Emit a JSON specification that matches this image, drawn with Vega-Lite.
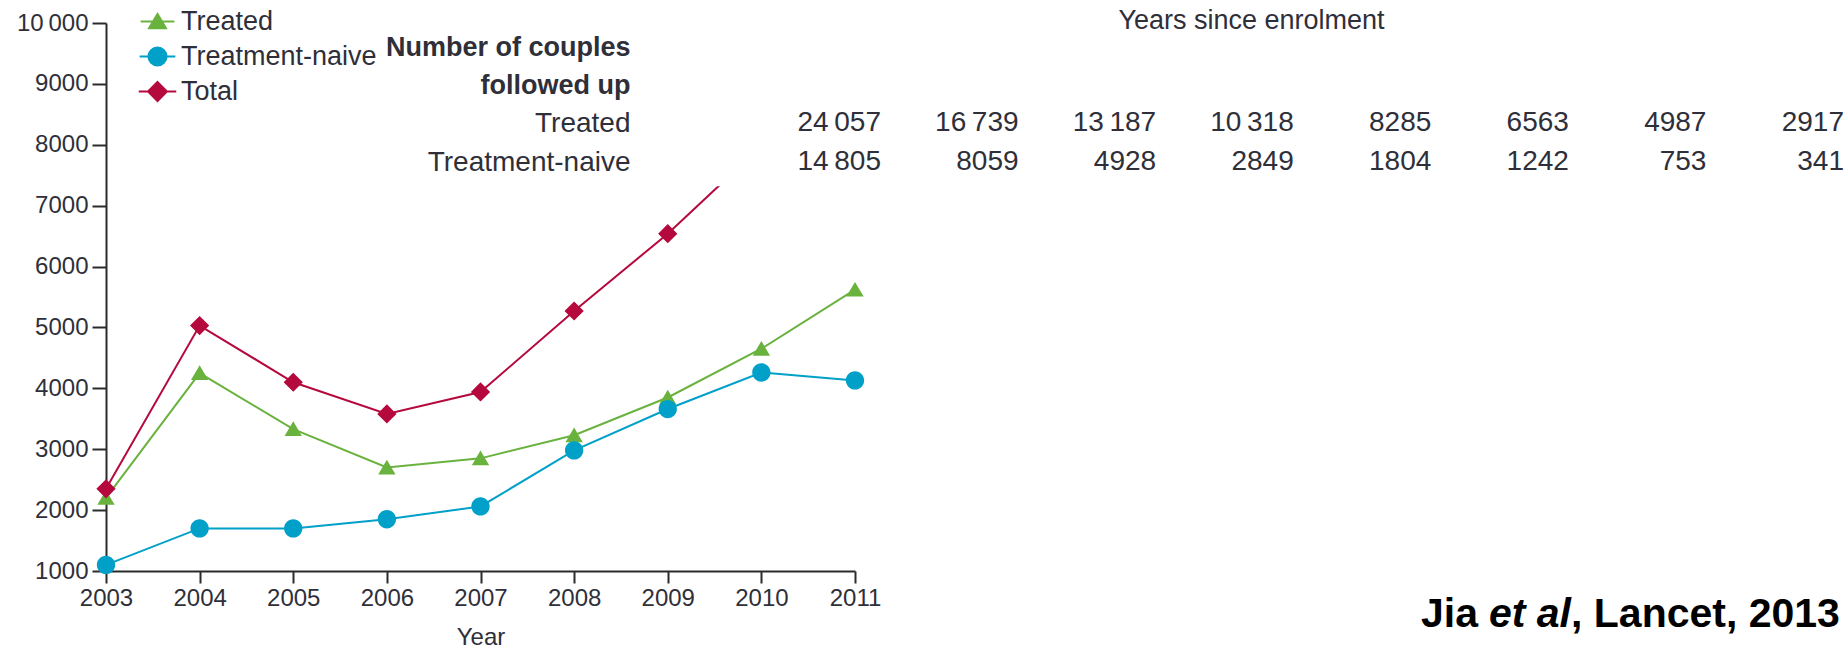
{
  "$schema": "https://vega.github.io/schema/vega-lite/v6.json",
  "width": 1741,
  "height": 548,
  "autosize": {"type": "none"},
  "padding": {"left": 106, "top": 23, "right": 0, "bottom": 77},
  "background": "white",
  "config": {
    "view": {"stroke": null},
    "font": "Liberation Sans",
    "locale": {"number": {"decimal": ".", "thousands": "\u2009", "grouping": [3], "currency": ["", ""]}},
    "axis": {
      "grid": false,
      "domainColor": "#2b2b2b",
      "domainWidth": 2,
      "tickColor": "#2b2b2b",
      "tickWidth": 2,
      "labelColor": "#2f2f3a",
      "titleColor": "#2f2f3a",
      "labelFont": "Liberation Sans",
      "titleFont": "Liberation Sans",
      "titleFontWeight": "normal"
    },
    "legend": {"labelFont": "Liberation Sans", "labelColor": "#2f2f3a"}
  },
  "datasets": {
    "trend": [
      {"year": 2003, "series": "Treated", "couples": 2200},
      {"year": 2004, "series": "Treated", "couples": 4250},
      {"year": 2005, "series": "Treated", "couples": 3330},
      {"year": 2006, "series": "Treated", "couples": 2700},
      {"year": 2007, "series": "Treated", "couples": 2850},
      {"year": 2008, "series": "Treated", "couples": 3230},
      {"year": 2009, "series": "Treated", "couples": 3850},
      {"year": 2010, "series": "Treated", "couples": 4650},
      {"year": 2011, "series": "Treated", "couples": 5620},
      {"year": 2003, "series": "Treatment-naive", "couples": 1100},
      {"year": 2004, "series": "Treatment-naive", "couples": 1700},
      {"year": 2005, "series": "Treatment-naive", "couples": 1700},
      {"year": 2006, "series": "Treatment-naive", "couples": 1850},
      {"year": 2007, "series": "Treatment-naive", "couples": 2060},
      {"year": 2008, "series": "Treatment-naive", "couples": 2980},
      {"year": 2009, "series": "Treatment-naive", "couples": 3660},
      {"year": 2010, "series": "Treatment-naive", "couples": 4260},
      {"year": 2011, "series": "Treatment-naive", "couples": 4130},
      {"year": 2003, "series": "Total", "couples": 2350},
      {"year": 2004, "series": "Total", "couples": 5030},
      {"year": 2005, "series": "Total", "couples": 4100},
      {"year": 2006, "series": "Total", "couples": 3580},
      {"year": 2007, "series": "Total", "couples": 3940},
      {"year": 2008, "series": "Total", "couples": 5270},
      {"year": 2009, "series": "Total", "couples": 6540},
      {"year": 2010, "series": "Total", "couples": 7980},
      {"year": 2011, "series": "Total", "couples": 9700}
    ],
    "followup": [
      {"group": "Treated", "years_since_enrolment": 0, "n_couples": 24057},
      {"group": "Treated", "years_since_enrolment": 1, "n_couples": 16739},
      {"group": "Treated", "years_since_enrolment": 2, "n_couples": 13187},
      {"group": "Treated", "years_since_enrolment": 3, "n_couples": 10318},
      {"group": "Treated", "years_since_enrolment": 4, "n_couples": 8285},
      {"group": "Treated", "years_since_enrolment": 5, "n_couples": 6563},
      {"group": "Treated", "years_since_enrolment": 6, "n_couples": 4987},
      {"group": "Treated", "years_since_enrolment": 7, "n_couples": 2917},
      {"group": "Treatment-naive", "years_since_enrolment": 0, "n_couples": 14805},
      {"group": "Treatment-naive", "years_since_enrolment": 1, "n_couples": 8059},
      {"group": "Treatment-naive", "years_since_enrolment": 2, "n_couples": 4928},
      {"group": "Treatment-naive", "years_since_enrolment": 3, "n_couples": 2849},
      {"group": "Treatment-naive", "years_since_enrolment": 4, "n_couples": 1804},
      {"group": "Treatment-naive", "years_since_enrolment": 5, "n_couples": 1242},
      {"group": "Treatment-naive", "years_since_enrolment": 6, "n_couples": 753},
      {"group": "Treatment-naive", "years_since_enrolment": 7, "n_couples": 341}
    ],
    "citation": [
      {"author": "Jia", "etal": "et al", "source": ", Lancet, 2013"}
    ]
  },
  "layer": [
    {
      "layer": [
        {
          "data": {"name": "trend"},
          "mark": {"type": "line", "strokeWidth": 2},
          "encoding": {
            "x": {
              "field": "year",
              "type": "quantitative",
              "scale": {"domain": [2003, 2011], "range": [0, 749], "nice": false, "zero": false},
              "axis": {
                "values": [2003, 2004, 2005, 2006, 2007, 2008, 2009, 2010, 2011],
                "format": "d",
                "title": "Year",
                "tickSize": 12,
                "labelPadding": 3,
                "labelFontSize": 24,
                "labelFlush": false,
                "titleFontSize": 24,
                "titlePadding": 15
              }
            },
            "y": {
              "field": "couples",
              "type": "quantitative",
              "scale": {"domain": [1000, 10000], "nice": false, "zero": false},
              "axis": {
                "values": [1000, 2000, 3000, 4000, 5000, 6000, 7000, 8000, 9000, 10000],
                "labelExpr": "datum.value >= 10000 ? replace(format(datum.value, ','), ',', '\u2009') : format(datum.value, 'd')",
                "tickSize": 14,
                "labelPadding": 4,
                "labelFontSize": 24,
                "title": null
              }
            },
            "color": {
              "field": "series",
              "type": "nominal",
              "scale": {"domain": ["Treated", "Treatment-naive", "Total"], "range": ["#6ab23e", "#00a0c8", "#b5093d"]},
              "legend": {
                "title": null,
                "orient": "none",
                "legendX": 38,
                "legendY": -15,
                "padding": 0,
                "rowPadding": 7,
                "labelOffset": 10,
                "labelFontSize": 27,
                "labelLimit": 0,
                "symbolSize": 225,
                "symbolStrokeWidth": 1.8,
                "symbolOpacity": 1
              }
            }
          }
        },
        {
          "data": {"name": "trend"},
          "mark": {"type": "point", "filled": true, "opacity": 1},
          "encoding": {
            "x": {"field": "year", "type": "quantitative"},
            "y": {"field": "couples", "type": "quantitative"},
            "color": {
              "field": "series",
              "type": "nominal",
              "legend": {
                "title": null,
                "orient": "none",
                "legendX": 38,
                "legendY": -15,
                "padding": 0,
                "rowPadding": 7,
                "labelOffset": 10,
                "labelFontSize": 27,
                "labelLimit": 0,
                "symbolSize": 225,
                "symbolStrokeWidth": 1.8,
                "symbolOpacity": 1
              }
            },
            "shape": {
              "field": "series",
              "type": "nominal",
              "scale": {
                "domain": ["Treated", "Treatment-naive", "Total"],
                "range": [
                  "M-1.95,0H1.95M0,-0.9L1,0.8H-1Z",
                  "M-1.95,0H1.95M1,0A1,1,0,1,1,-1,0A1,1,0,1,1,1,0Z",
                  "M-1.95,0H1.95M0,-1L1,0L0,1L-1,0Z"
                ]
              },
              "legend": null
            },
            "size": {
              "field": "series",
              "type": "nominal",
              "scale": {"domain": ["Treated", "Treatment-naive", "Total"], "range": [300, 370, 300]},
              "legend": null
            }
          }
        },
        {
          "data": {"values": [{"panel": "follow-up table backdrop"}]},
          "mark": {"type": "rect", "color": "white", "opacity": 1},
          "encoding": {
            "x": {"datum": 2005.81, "type": "quantitative"},
            "x2": {"datum": 2023},
            "y": {"datum": 7320, "type": "quantitative"},
            "y2": {"datum": 10500}
          }
        },
        {
          "data": {"name": "citation"},
          "mark": {"type": "text", "align": "right", "baseline": "alphabetic", "font": "Liberation Sans", "fontWeight": "bold", "fontSize": 41, "color": "black"},
          "encoding": {
            "x": {"datum": 2021.52, "type": "quantitative"},
            "y": {"datum": 80, "type": "quantitative"},
            "text": {"field": "source", "type": "nominal"}
          }
        },
        {
          "data": {"name": "citation"},
          "mark": {"type": "text", "align": "right", "baseline": "alphabetic", "font": "Liberation Sans", "fontWeight": "bold", "fontStyle": "italic", "fontSize": 41, "dx": -269, "color": "black"},
          "encoding": {
            "x": {"datum": 2021.52, "type": "quantitative"},
            "y": {"datum": 80, "type": "quantitative"},
            "text": {"field": "etal", "type": "nominal"}
          }
        },
        {
          "data": {"name": "citation"},
          "mark": {"type": "text", "align": "right", "baseline": "alphabetic", "font": "Liberation Sans", "fontWeight": "bold", "fontSize": 41, "dx": -362, "color": "black"},
          "encoding": {
            "x": {"datum": 2021.52, "type": "quantitative"},
            "y": {"datum": 80, "type": "quantitative"},
            "text": {"field": "author", "type": "nominal"}
          }
        }
      ]
    },
    {
      "data": {"name": "followup"},
      "mark": {"type": "text", "align": "right", "baseline": "middle", "fontSize": 28, "color": "#2f2f3a"},
      "encoding": {
        "x": {
          "field": "years_since_enrolment",
          "type": "quantitative",
          "scale": {"domain": [0, 7], "range": [775, 1738], "nice": false, "zero": false},
          "axis": {
            "orient": "top",
            "labels": false,
            "ticks": false,
            "domain": false,
            "title": "Years since enrolment",
            "titleX": 1145,
            "titleY": -3,
            "titleAlign": "center",
            "titleBaseline": "middle",
            "titleFontSize": 27,
            "titleFontWeight": "normal",
            "zindex": 1
          }
        },
        "y": {
          "field": "group",
          "type": "nominal",
          "scale": {"type": "point", "domain": ["Treated", "Treatment-naive"], "range": [100, 139], "padding": 0},
          "axis": {
            "orient": "left",
            "offset": -524,
            "domain": false,
            "ticks": false,
            "tickSize": 0,
            "labelPadding": 0,
            "labelAlign": "right",
            "labelBaseline": "middle",
            "labelFontSize": 28,
            "labelLimit": 0,
            "title": ["Number of couples", "followed up"],
            "titleAngle": 0,
            "titleAlign": "right",
            "titleBaseline": "middle",
            "titleX": 0,
            "titleY": 24,
            "titleLineHeight": 38,
            "titleFontSize": 27,
            "titleFontWeight": "bold",
            "zindex": 1
          }
        },
        "text": {
          "condition": {"test": "datum.n_couples >= 10000", "field": "n_couples", "type": "quantitative", "format": ","},
          "field": "n_couples",
          "type": "quantitative",
          "format": "d"
        }
      }
    }
  ],
  "resolve": {"scale": {"x": "independent", "y": "independent"}}
}
